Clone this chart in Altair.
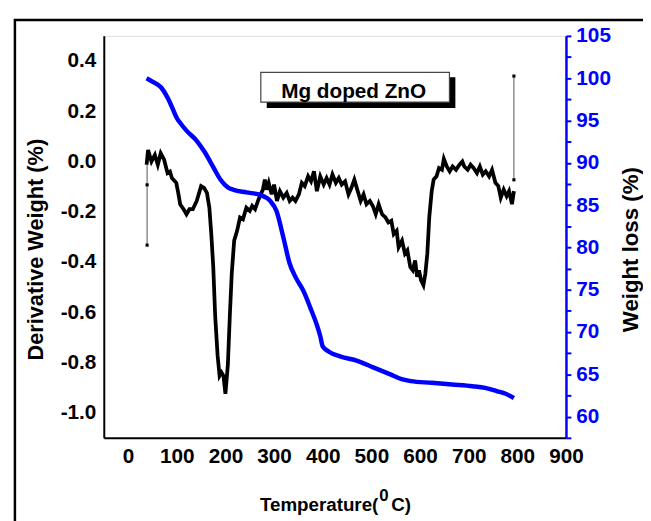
import altair as alt
import pandas as pd

# ---- data ----
# Derivative weight (%) curve (left axis)
dw_temp = [38, 41, 48, 55, 61, 67, 74, 81, 86, 90, 99, 103, 107, 114, 120, 126, 133, 141, 150, 156,
           162, 167, 171, 175, 179, 184, 188, 192, 196, 200, 205, 209, 213, 218, 224, 230, 236, 243,
           250, 255, 261, 268, 277, 281, 285, 289, 295, 300, 306, 312, 319, 326, 332, 338, 344, 351,
           357, 363, 370, 376, 382, 388, 395, 402, 408, 414, 420, 427, 433, 439, 446, 453, 459, 465,
           471, 478, 484, 490, 497, 503, 509, 515, 522, 529, 535, 541, 546, 552, 556, 563, 569, 574,
           580, 585, 590, 594, 598, 602, 607, 611, 615, 619, 624, 628, 634, 639, 645, 649, 655, 661,
           667, 674, 681, 687, 691, 698, 704, 710, 717, 723, 729, 735, 742, 748, 755, 761, 766, 772,
           778, 783, 789, 793]
dw_value = [-0.013, 0.046, 0.0, 0.026, -0.013, 0.033, 0.007, -0.046, -0.040, -0.066, -0.085, -0.125,
            -0.170, -0.190, -0.210, -0.190, -0.190, -0.157, -0.098, -0.105, -0.125, -0.184, -0.290,
            -0.420, -0.617, -0.774, -0.853, -0.840, -0.853, -0.925, -0.810, -0.617, -0.446, -0.315,
            -0.276, -0.223, -0.230, -0.184, -0.197, -0.177, -0.190, -0.151, -0.112, -0.072, -0.112,
            -0.085, -0.131, -0.092, -0.157, -0.118, -0.144, -0.125, -0.157, -0.144, -0.157, -0.131,
            -0.085, -0.098, -0.059, -0.079, -0.039, -0.118, -0.059, -0.092, -0.066, -0.092, -0.052,
            -0.085, -0.066, -0.092, -0.079, -0.131, -0.105, -0.072, -0.112, -0.157, -0.131, -0.170,
            -0.157, -0.177, -0.210, -0.170, -0.210, -0.223, -0.243, -0.236, -0.289, -0.276, -0.341,
            -0.315, -0.367, -0.354, -0.420, -0.433, -0.394, -0.459, -0.433, -0.472, -0.492, -0.446,
            -0.367, -0.223, -0.118, -0.072, -0.059, -0.026, -0.033, 0.010, -0.020, -0.039, -0.020,
            -0.033, -0.013, 0.0, -0.020, -0.033, -0.013, -0.026, -0.046, -0.020, -0.052, -0.039,
            -0.059, -0.033, -0.085, -0.098, -0.144, -0.112, -0.138, -0.118, -0.170, -0.118]

# Weight loss (%) curve (right axis)
wl_temp = [38, 50, 68, 82, 90, 100, 110, 120, 141, 157, 175, 190, 205, 217, 243, 272, 292, 305,
           319, 332, 345, 360, 375, 387, 395, 400, 412, 437, 471, 505, 539, 564, 581, 624, 666,
           708, 734, 759, 776, 793]
wl_value = [100.0, 99.6, 98.9, 97.6, 96.6, 95.3, 94.5, 93.8, 92.6, 91.3, 89.5, 88.0, 87.1, 86.8,
            86.5, 86.2, 85.5, 84.3, 81.2, 78.1, 76.4, 74.9, 72.8, 71.0, 69.5, 68.3, 67.7, 67.1,
            66.6, 65.8, 65.0, 64.4, 64.2, 64.0, 63.8, 63.6, 63.4, 63.0, 62.7, 62.2]

# thin end segments of the derivative record
seg_temp = [39, 39, 793, 793]
seg_value = [-0.010, -0.333, -0.073, 0.340]
seg_id = ["start", "start", "end", "end"]
seg_marker_temp = [39, 39, 793, 793]
seg_marker_value = [-0.093, -0.333, -0.073, 0.340]

x_ticks = [0, 100, 200, 300, 400, 500, 600, 700, 800, 900]
left_ticks = [-1.0, -0.8, -0.6, -0.4, -0.2, 0.0, 0.2, 0.4]
right_ticks = [57.5 + 2.5 * i for i in range(20)]

legend_label = "Mg doped ZnO"

FONT = "Liberation Sans"
BLUE = "#0000FF"

dw_df = pd.DataFrame({"T": dw_temp, "dw": dw_value})
wl_df = pd.DataFrame({"T": wl_temp, "wl": wl_value})
seg_df = pd.DataFrame({"T": seg_temp, "dw": seg_value, "id": seg_id})
mk_df = pd.DataFrame({"T": seg_marker_temp, "dw": seg_marker_value})
one = pd.DataFrame({"a": [0]})

x_scale = alt.Scale(domain=[-50, 900], nice=False, zero=False)
x_axis = alt.Axis(values=x_ticks, ticks=False, labelPadding=8, labelFontSize=21,
                  labelFontWeight="bold", labelFont=FONT, labelColor="black",
                  labelOverlap=False, labelFlush=False,
                  domainColor="black", domainWidth=2, grid=False, title=None)

left_scale = alt.Scale(domain=[-1.1, 0.5], nice=False, zero=False)
left_axis = alt.Axis(orient="left", values=left_ticks, ticks=False, labelPadding=8,
                     labelExpr="replace(format(datum.value, '.1f'), '\u2212', '-')",
                     labelFontSize=21, labelFontWeight="bold", labelFont=FONT,
                     labelColor="black", labelOverlap=False, labelFlush=False,
                     domainColor="black", domainWidth=2, grid=False,
                     title="Derivative Weight (%)", titleFont=FONT, titleFontSize=22,
                     titleFontWeight="bold", titleColor="black", titleAngle=270,
                     titleX=-69, titleY=216, titleAlign="center", titleBaseline="middle")

right_scale = alt.Scale(domain=[57.5, 105], nice=False, zero=False)
right_axis = alt.Axis(orient="right", values=right_ticks, tickSize=5, tickWidth=2,
                      tickColor=BLUE, labelPadding=5,
                      labelExpr="datum.value % 5 == 0 ? datum.label : ''",
                      labelFontSize=21, labelFontWeight="bold", labelFont=FONT,
                      labelColor=BLUE, labelOverlap=False, labelFlush=False,
                      domainColor=BLUE, domainWidth=2.5, grid=False,
                      title="Weight loss (%)", titleFont=FONT, titleFontSize=22.5,
                      titleFontWeight="bold", titleColor="black", titleAngle=270,
                      titleX=65, titleY=216, titleAlign="center", titleBaseline="middle")

deriv = alt.Chart(dw_df).mark_line(color="black", strokeWidth=3.8).encode(
    x=alt.X("T:Q", scale=x_scale, axis=x_axis),
    y=alt.Y("dw:Q", scale=left_scale, axis=left_axis),
)
segs = alt.Chart(seg_df).mark_line(color="#555555", strokeWidth=1).encode(
    x=alt.X("T:Q", scale=x_scale),
    y=alt.Y("dw:Q", scale=left_scale),
    detail="id:N",
)
marks = alt.Chart(mk_df).mark_square(color="black", size=10, opacity=1).encode(
    x=alt.X("T:Q", scale=x_scale),
    y=alt.Y("dw:Q", scale=left_scale),
)
left_layer = alt.layer(deriv, segs, marks)

wl = alt.Chart(wl_df).mark_line(color=BLUE, strokeWidth=4.5, interpolate="monotone").encode(
    x=alt.X("T:Q", scale=x_scale),
    y=alt.Y("wl:Q", scale=right_scale, axis=right_axis),
)

border = alt.Chart(one).mark_rect(fill=None, stroke="black", strokeWidth=2.5).encode(
    x=alt.value(-90), x2=alt.value(800), y=alt.value(-16), y2=alt.value(700))
shadow = alt.Chart(one).mark_rect(fill="black").encode(
    x=alt.value(165), x2=alt.value(356), y=alt.value(42), y2=alt.value(73))
box = alt.Chart(one).mark_rect(fill="white", stroke="#444444", strokeWidth=1.2).encode(
    x=alt.value(159), x2=alt.value(350), y=alt.value(37), y2=alt.value(67))
label = alt.Chart(one).mark_text(text=legend_label, font=FONT, fontSize=21, fontWeight="bold",
                                 align="center", baseline="alphabetic", color="black").encode(
    x=alt.value(253), y=alt.value(63))

t1 = alt.Chart(one).mark_text(text="Temperature(", font=FONT, fontSize=19, fontWeight="bold",
                              align="right", baseline="alphabetic", color="black").encode(
    x=alt.value(278), y=alt.value(481))
t2 = alt.Chart(one).mark_text(text="0", font=FONT, fontSize=17, fontWeight="bold",
                              align="left", baseline="alphabetic", color="black").encode(
    x=alt.value(279), y=alt.value(471))
t3 = alt.Chart(one).mark_text(text="C)", font=FONT, fontSize=19, fontWeight="bold",
                              align="left", baseline="alphabetic", color="black").encode(
    x=alt.value(291), y=alt.value(481))

chart = alt.layer(
    border, left_layer, wl, shadow, box, label, t1, t2, t3
).resolve_scale(y="independent").properties(
    width=468, height=407,
    autosize=alt.AutoSizeParams(type="none"),
    padding={"left": 97, "top": 25, "right": 78, "bottom": 81},
).configure_view(stroke="black", strokeWidth=2).configure(background="white")

chart.save("out.html", embed_options={"renderer": "svg", "actions": False})
